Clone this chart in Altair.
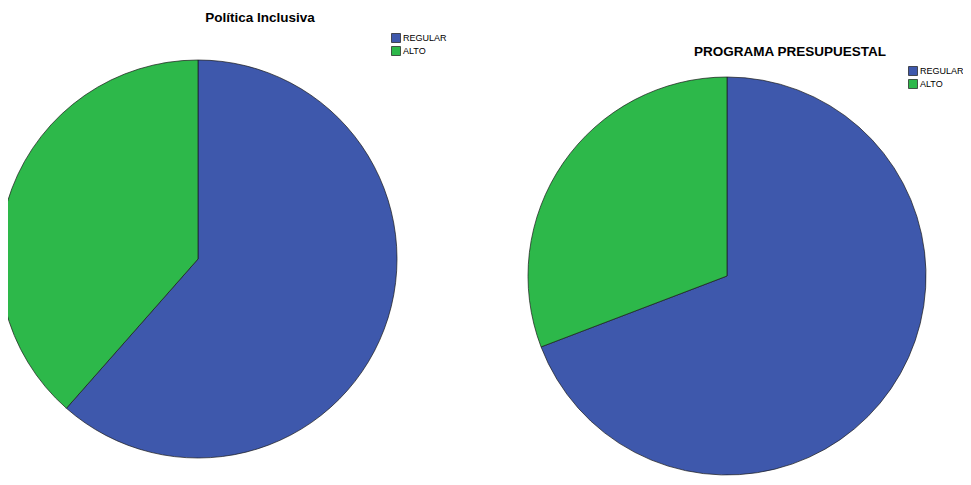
import altair as alt
import pandas as pd

categorias = ["REGULAR", "ALTO"]
politica_inclusiva = [61.5, 38.5]
programa_presupuestal = [69.2, 30.8]
titulos = ["Política Inclusiva", "PROGRAMA PRESUPUESTAL"]
colores = ["#3E58AC", "#2DB84A"]


def pie(values, cx, cy, r, lx, ly):
    df = pd.DataFrame({"cat": categorias, "val": values,
                       "ord": list(range(len(categorias)))})
    return alt.Chart(df).mark_arc(radius=r, stroke="#1a1a1a", strokeWidth=0.7).encode(
        theta=alt.Theta("val:Q", stack=True),
        order=alt.Order("ord:Q"),
        color=alt.Color(
            "cat:N",
            scale=alt.Scale(domain=categorias, range=colores),
            sort=categorias,
            legend=alt.Legend(
                title=None, orient="none", legendX=lx, legendY=ly,
                symbolType="square", symbolSize=81,
                symbolStrokeColor="#1a1a1a", symbolStrokeWidth=0.7,
                symbolOpacity=1, labelFontSize=9, labelFont="Liberation Sans",
                labelColor="black", labelOffset=2, rowPadding=1, padding=0,
            ),
        ),
        x=alt.value(cx),
        y=alt.value(cy),
    )


def title(text, x, y):
    df = pd.DataFrame({"t": [text]})
    return alt.Chart(df).mark_text(
        font="Liberation Sans", fontSize=13.5, fontWeight="bold", color="black",
        align="center", baseline="middle",
    ).encode(text="t:N", x=alt.value(x), y=alt.value(y))


chart = alt.layer(
    pie(politica_inclusiva, 190, 251, 199, 383, 25),
    pie(programa_presupuestal, 719, 268, 199, 900, 58),
    title(titulos[0], 252, 10),
    title(titulos[1], 782, 44),
).resolve_scale(
    theta="independent", color="independent"
).resolve_legend(
    color="independent"
).properties(
    width=955, height=469,
    autosize=alt.AutoSizeParams(type="none"),
    padding=0,
).configure_view(stroke=None)

chart.save("out.html", embed_options={"renderer": "svg", "actions": False})
